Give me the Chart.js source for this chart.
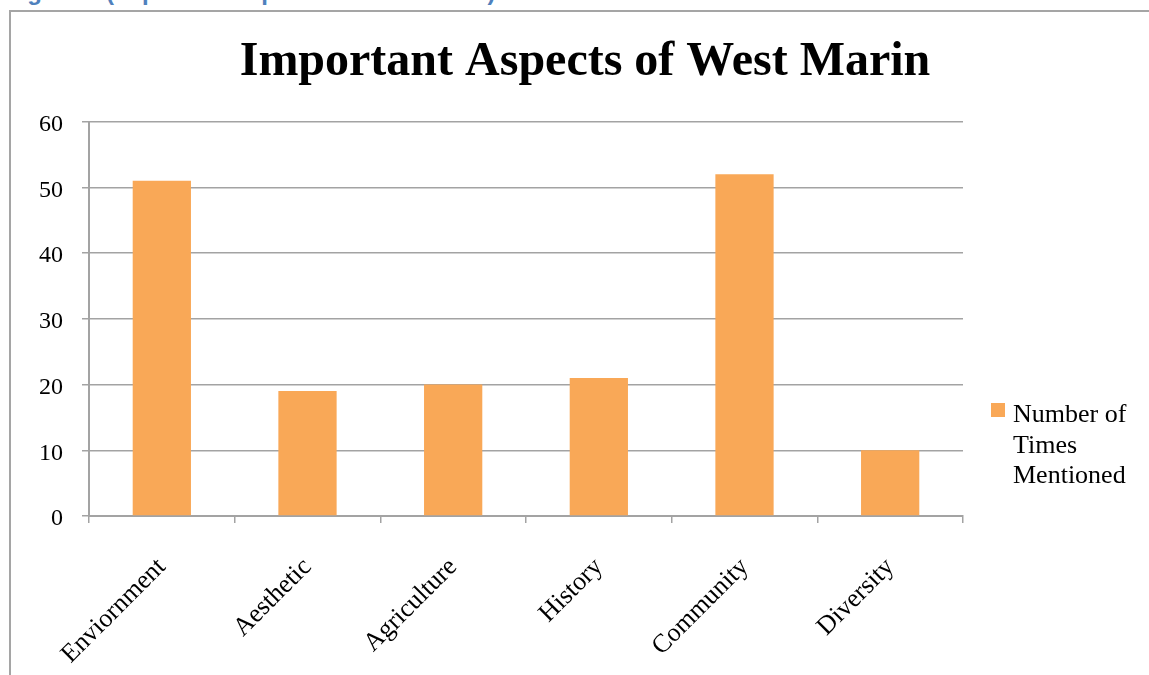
<!DOCTYPE html>
<html>
<head>
<meta charset="utf-8">
<script src="https://cdn.jsdelivr.net/npm/chart.js@4/dist/chart.umd.min.js"></script>
<style>
  body { margin: 0; background: #fff; overflow: hidden; }
  #caption {
    position: absolute; left: 6px; top: -20px;
    font: bold 24px/24px "Liberation Sans", sans-serif; color: #4f81bd;
    white-space: nowrap;
  }
  #frame {
    position: absolute; left: 9px; top: 10px;
    width: 1200px; height: 720px;
    border: 2px solid #a5a5a5; box-sizing: border-box;
  }
  #chart { position: absolute; left: 0; top: 0; }
</style>
</head>
<body>
<div id="caption">Figure 3 (Important Aspects of West Marin)</div>
<div id="frame">
  <canvas id="chart" width="1138" height="663"></canvas>
</div>
<script>
const categories = ['Enviornment', 'Aesthetic', 'Agriculture', 'History', 'Community', 'Diversity'];
const timesMentioned = [51, 19, 20, 21, 52, 10];
const seriesName = ['Number of', 'Times', 'Mentioned'];
const yTicks = [0, 10, 20, 30, 40, 50, 60];

const serif = '"Liberation Serif", "Times New Roman", serif';
const barColor = '#f9a857';
const lineColor = '#a3a3a3';

// legend at the right, drawn by hand so the name can wrap onto three lines
const sideLegend = {
    id: 'sideLegend',
    afterDraw(chart) {
        const ctx = chart.ctx;
        const x = chart.chartArea.right + 28;
        const y = 391;
        ctx.save();
        ctx.fillStyle = barColor;
        ctx.fillRect(x, y, 14, 14);
        ctx.fillStyle = '#000';
        ctx.font = '26px ' + serif;
        ctx.textBaseline = 'alphabetic';
        seriesName.forEach(function(line, i) {
            ctx.fillText(line, x + 22, y + 19 + i * 30.5);
        });
        ctx.restore();
    }
};

const canvas = document.getElementById('chart');
new Chart(canvas, {
    type: 'bar',
    data: {
        labels: categories,
        datasets: [{
            label: seriesName.join(' '),
            data: timesMentioned,
            backgroundColor: barColor,
            borderWidth: 0,
            barPercentage: 0.4,
            categoryPercentage: 1.0
        }]
    },
    options: {
        responsive: false,
        animation: false,
        layout: { padding: { left: 10, right: 0, top: 8, bottom: 0 } },
        plugins: {
            legend: { display: false },
            tooltip: { enabled: false },
            title: {
                display: true,
                text: 'Important Aspects of West Marin',
                color: '#000',
                font: { family: serif, size: 48, weight: 'bold' },
                padding: { top: 14, bottom: 30 }
            }
        },
        scales: {
            x: {
                offset: true,
                afterFit(axis) { axis.height = 159; },
                grid: {
                    offset: true,
                    drawOnChartArea: false,
                    drawTicks: true,
                    tickLength: 7,
                    color: lineColor,
                    lineWidth: 1.5
                },
                border: { color: lineColor, width: 2 },
                ticks: {
                    color: '#000',
                    font: { family: serif, size: 26 },
                    minRotation: 45,
                    maxRotation: 45,
                    padding: 29
                }
            },
            y: {
                min: 0,
                max: 60,
                afterFit(axis) { axis.width = 68; },
                afterBuildTicks(axis) {
                    axis.ticks = yTicks.map(function(v) { return { value: v }; });
                },
                grid: {
                    color: lineColor,
                    lineWidth: 1.5,
                    tickLength: 7
                },
                border: { color: lineColor, width: 2 },
                ticks: {
                    color: '#000',
                    font: { family: serif, size: 24 },
                    padding: 19,
                    labelOffset: 3
                }
            },
            // empty axis on the right that keeps room for the legend
            legendSpace: {
                position: 'right',
                afterFit(axis) { axis.width = 186; },
                grid: { display: false },
                border: { display: false },
                ticks: { display: false }
            }
        }
    },
    plugins: [sideLegend]
});
</script>
</body>
</html>
